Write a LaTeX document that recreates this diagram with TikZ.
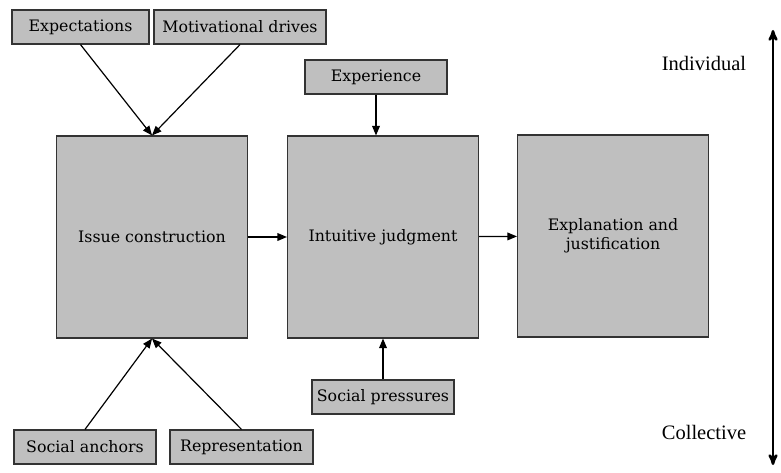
\documentclass[tikz,border=0pt]{standalone}
\usepackage{fontspec}
\setmainfont{DejaVu Serif}
\newfontfamily\axisfont{Liberation Serif}
\usetikzlibrary{arrows,positioning}

\begin{document}
\begin{tikzpicture}[->, >=triangle 45, x=1pt, y=1pt, line width=1.2pt]
	\tikzstyle{factor}=[draw=black!80, fill=black!25, minimum height=34pt, inner sep=0pt, font=\fontsize{15.8}{18.5}\selectfont]
	\tikzstyle{stage}=[factor, minimum width=191pt, minimum height=202pt, align=center]
	\tikzstyle{level}=[font=\axisfont\fontsize{20.5}{24}\selectfont]
	\useasboundingbox (0,0) rectangle (781,472);
	% the three stages
	\node[stage]    (I) at (152,235)    {Issue construction};
	\node[stage]    (J) at (383,235)    {Intuitive judgment};
	\node[stage]    (E) at (613,236)    {Explanation and\\justification};
	% factors
	\node[factor, minimum width=137pt]  (exp) at (80.5,445)  {Expectations};
	\node[factor, minimum width=172pt]  (mot) at (240,445)   {Motivational drives};
	\node[factor, minimum width=142pt]  (xp)  at (376,395)   {Experience};
	\node[factor, minimum width=142pt]  (sp)  at (383,75)    {Social pressures};
	\node[factor, minimum width=142pt]  (anc) at (85,25)     {Social anchors};
	\node[factor, minimum width=143pt]  (rep) at (241.5,25)  {Representation};
	% individual / collective axis
	\node[level]    (ind) at (704,409)  {Individual};
	\node[level]    (col) at (704,40)   {Collective};
	\coordinate (top) at (773,442);
	\coordinate (bot) at (773,7);
	\path
	(exp.south) edge (I.north)
	(mot.south) edge (I.north)
	(anc.north) edge (I.south)
	(rep.north) edge (I.south)
	(xp.south)  edge (xp.south |- J.north)
	(sp.north)  edge (sp.north |- J.south)
	(I) edge (J)
	(J) edge (E);
	\draw[<->, >=stealth', line width=2.5pt] (bot) -- (top);
\end{tikzpicture}
\end{document}
